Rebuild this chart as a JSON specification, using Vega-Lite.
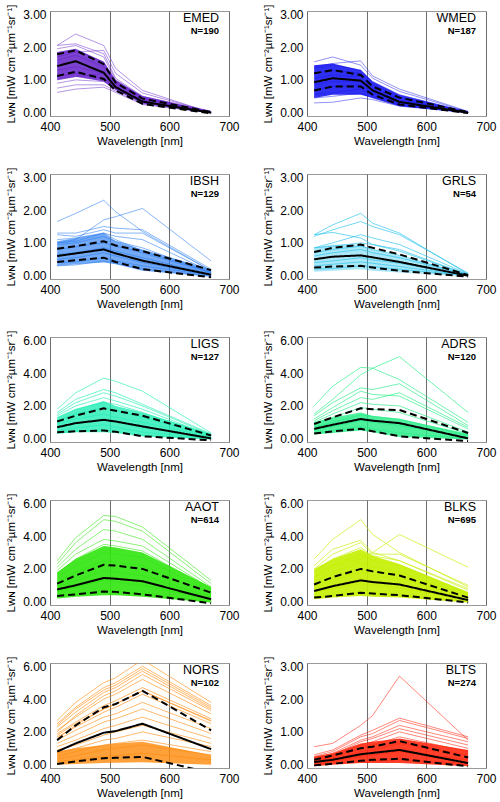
{
"$schema":"https://vega.github.io/schema/vega-lite/v6.json",
"padding":{"left":5,"top":3,"right":0,"bottom":0},
"columns":2,
"spacing":{"row":19,"column":22},
"config":{
 "view":{"stroke":"#999999","strokeWidth":1},
 "axis":{"domain":false,"ticks":false,"grid":false,"labelFont":"Liberation Sans","labelFontSize":12,"labelColor":"black","titleFont":"Liberation Sans","titleFontSize":11.5,"titleFontWeight":"normal","titleColor":"black"},
 "axisX":{"grid":true,"gridColor":"#6e6e6e","gridOpacity":1,"gridWidth":1,"labelPadding":5,"titlePadding":3,"zindex":1,"labelFlush":false},
 "axisY":{"format":".2f","labelPadding":4,"titlePadding":6},
 "title":{"anchor":"end","frame":"group","orient":"top","offset":-31,"dx":-10,"font":"Liberation Sans","fontSize":12.5,"fontWeight":"normal","color":"black","subtitleFont":"Liberation Sans","subtitleFontSize":9.5,"subtitleFontWeight":"bold","subtitleColor":"black","subtitlePadding":1}
},
"datasets":{
"EMEDl":[{"s":1,"412":2.05,"443":2.4,"490":2.05,"510":1.35,"555":0.68,"670":0.0},{"s":2,"412":2.05,"443":2.1,"490":1.8,"510":1.05,"555":0.5,"670":0.02},{"s":3,"412":1.95,"443":2.05,"490":1.7,"510":1.0,"555":0.48,"670":0.02},{"s":4,"412":1.8,"443":1.9,"490":1.55,"510":0.95,"555":0.45,"670":0.01},{"s":5,"412":1.7,"443":1.85,"490":1.9,"510":1.2,"555":0.6,"670":0.02},{"s":6,"412":1.6,"443":1.75,"490":1.4,"510":0.9,"555":0.42,"670":0.01},{"s":7,"412":1.3,"443":1.4,"490":1.2,"510":0.82,"555":0.38,"670":0.0},{"s":8,"412":1.1,"443":1.2,"490":1.05,"510":0.75,"555":0.33,"670":0.0},{"s":9,"412":1.0,"443":1.1,"490":1.2,"510":0.9,"555":0.5,"670":0.05},{"s":10,"412":0.9,"443":1.0,"490":0.95,"510":0.7,"555":0.3,"670":0.0},{"s":11,"412":0.75,"443":0.85,"490":0.85,"510":0.66,"555":0.27,"670":0.0},{"s":12,"412":0.62,"443":0.72,"490":0.78,"510":0.62,"555":0.25,"670":0.0}],
"EMEDs":[{"k":"m","412":1.42,"443":1.57,"490":1.22,"510":0.78,"555":0.34,"670":0.0},{"k":"u","412":1.78,"443":1.9,"490":1.48,"510":0.92,"555":0.43,"670":0.02},{"k":"d","412":1.12,"443":1.25,"490":1.03,"510":0.68,"555":0.27,"670":-0.02}],
"EMEDc":[{"w":412,"v":1.0,"v2":1.85},{"w":443,"v":1.1,"v2":1.95},{"w":490,"v":0.95,"v2":1.55},{"w":510,"v":0.7,"v2":1.0},{"w":555,"v":0.28,"v2":0.5},{"w":670,"v":0.0,"v2":0.03}],
"WMEDl":[{"s":1,"412":1.55,"443":1.7,"490":1.45,"510":1.05,"555":0.65,"670":0.03},{"s":2,"412":1.4,"443":1.5,"490":1.58,"510":1.12,"555":0.72,"670":0.04},{"s":3,"412":1.35,"443":1.45,"490":1.3,"510":0.95,"555":0.55,"670":0.02},{"s":4,"412":1.2,"443":1.3,"490":1.2,"510":0.85,"555":0.48,"670":0.02},{"s":5,"412":1.05,"443":1.15,"490":1.1,"510":0.75,"555":0.4,"670":0.01},{"s":6,"412":0.85,"443":0.95,"490":0.95,"510":0.68,"555":0.33,"670":0.01},{"s":7,"412":0.7,"443":0.8,"490":0.85,"510":0.6,"555":0.3,"670":0.0},{"s":8,"412":0.55,"443":0.62,"490":0.72,"510":0.52,"555":0.25,"670":0.0},{"s":9,"412":0.45,"443":0.5,"490":0.6,"510":0.45,"555":0.22,"670":0.0},{"s":10,"412":0.3,"443":0.32,"490":0.45,"510":0.4,"555":0.2,"670":0.0}],
"WMEDs":[{"k":"m","412":0.93,"443":1.05,"490":0.98,"510":0.68,"555":0.33,"670":0.0},{"k":"u","412":1.2,"443":1.3,"490":1.15,"510":0.8,"555":0.46,"670":0.02},{"k":"d","412":0.68,"443":0.8,"490":0.8,"510":0.55,"555":0.25,"670":-0.01}],
"WMEDc":[{"w":412,"v":0.45,"v2":1.45},{"w":443,"v":0.55,"v2":1.5},{"w":490,"v":0.55,"v2":1.3},{"w":510,"v":0.45,"v2":0.95},{"w":555,"v":0.2,"v2":0.55},{"w":670,"v":0.0,"v2":0.03}],
"IBSHl":[{"s":1,"412":1.65,"443":1.9,"490":2.3,"510":1.95,"555":1.35,"670":0.15},{"s":2,"412":1.0,"443":1.1,"490":1.7,"510":1.8,"555":2.05,"670":0.45},{"s":3,"412":1.3,"443":1.3,"490":1.5,"510":1.45,"555":1.4,"670":0.2},{"s":4,"412":1.25,"443":1.2,"490":1.4,"510":1.3,"555":1.3,"670":0.15},{"s":5,"412":1.1,"443":1.15,"490":1.3,"510":1.2,"555":1.1,"670":0.12},{"s":6,"412":0.95,"443":1.0,"490":1.2,"510":1.05,"555":0.85,"670":0.1},{"s":7,"412":0.8,"443":0.88,"490":1.0,"510":0.9,"555":0.7,"670":0.08},{"s":8,"412":0.65,"443":0.7,"490":0.85,"510":0.75,"555":0.55,"670":0.05},{"s":9,"412":0.5,"443":0.55,"490":0.7,"510":0.6,"555":0.4,"670":0.03},{"s":10,"412":0.4,"443":0.42,"490":0.55,"510":0.45,"555":0.3,"670":0.02},{"s":11,"412":0.3,"443":0.33,"490":0.45,"510":0.38,"555":0.2,"670":0.0},{"s":12,"412":1.0,"443":1.05,"490":1.3,"510":1.1,"555":0.75,"670":0.1}],
"IBSHs":[{"k":"m","412":0.6,"443":0.68,"490":0.8,"510":0.68,"555":0.46,"670":0.03},{"k":"u","412":0.82,"443":0.9,"490":1.05,"510":0.92,"555":0.75,"670":0.17},{"k":"d","412":0.42,"443":0.47,"490":0.55,"510":0.42,"555":0.2,"670":-0.05}],
"IBSHc":[{"w":412,"v":0.3,"v2":1.05},{"w":443,"v":0.35,"v2":1.15},{"w":490,"v":0.4,"v2":1.3},{"w":510,"v":0.35,"v2":1.05},{"w":555,"v":0.15,"v2":0.8},{"w":670,"v":-0.03,"v2":0.2}],
"GRLSl":[{"s":1,"412":1.25,"443":1.55,"490":1.9,"510":1.6,"555":1.3,"670":0.05},{"s":2,"412":1.2,"443":1.4,"490":1.65,"510":1.5,"555":1.25,"670":0.08},{"s":3,"412":1.25,"443":1.32,"490":1.15,"510":0.95,"555":0.75,"670":0.03},{"s":4,"412":0.85,"443":1.0,"490":1.25,"510":1.15,"555":0.95,"670":0.05},{"s":5,"412":0.85,"443":0.9,"490":1.0,"510":0.95,"555":0.8,"670":0.03},{"s":6,"412":0.6,"443":0.7,"490":0.8,"510":0.7,"555":0.55,"670":0.02},{"s":7,"412":0.4,"443":0.45,"490":0.55,"510":0.48,"555":0.38,"670":0.0},{"s":8,"412":0.2,"443":0.22,"490":0.3,"510":0.28,"555":0.2,"670":0.0},{"s":9,"412":0.7,"443":0.8,"490":0.9,"510":0.8,"555":0.62,"670":0.02},{"s":10,"412":0.3,"443":0.35,"490":0.42,"510":0.38,"555":0.28,"670":0.0}],
"GRLSs":[{"k":"m","412":0.5,"443":0.58,"490":0.62,"510":0.56,"555":0.42,"670":0.0},{"k":"u","412":0.72,"443":0.85,"490":0.95,"510":0.85,"555":0.65,"670":0.02},{"k":"d","412":0.25,"443":0.28,"490":0.3,"510":0.25,"555":0.15,"670":-0.03}],
"GRLSc":[{"w":412,"v":0.12,"v2":0.85},{"w":443,"v":0.15,"v2":0.95},{"w":490,"v":0.2,"v2":0.95},{"w":510,"v":0.15,"v2":0.8},{"w":555,"v":0.1,"v2":0.6},{"w":670,"v":-0.02,"v2":0.05}],
"LIGSl":[{"s":1,"412":1.8,"443":2.8,"490":3.7,"510":3.5,"555":2.9,"670":0.35},{"s":2,"412":1.6,"443":2.4,"490":3.0,"510":2.8,"555":2.1,"670":0.3},{"s":3,"412":1.5,"443":2.2,"490":2.8,"510":2.6,"555":2.0,"670":0.25},{"s":4,"412":1.4,"443":2.0,"490":2.5,"510":2.3,"555":1.8,"670":0.2},{"s":5,"412":1.3,"443":1.8,"490":2.2,"510":2.1,"555":1.6,"670":0.2},{"s":6,"412":1.1,"443":1.5,"490":1.9,"510":1.7,"555":1.3,"670":0.15},{"s":7,"412":0.9,"443":1.2,"490":1.5,"510":1.3,"555":1.0,"670":0.1},{"s":8,"412":0.7,"443":0.9,"490":1.2,"510":1.05,"555":0.7,"670":0.05},{"s":9,"412":0.5,"443":0.65,"490":0.85,"510":0.7,"555":0.4,"670":0.02},{"s":10,"412":0.35,"443":0.45,"490":0.55,"510":0.45,"555":0.2,"670":0.0}],
"LIGSs":[{"k":"m","412":0.7,"443":0.95,"490":1.15,"510":1.05,"555":0.75,"670":0.02},{"k":"u","412":1.05,"443":1.4,"490":1.85,"510":1.7,"555":1.4,"670":0.2},{"k":"d","412":0.4,"443":0.45,"490":0.5,"510":0.42,"555":0.15,"670":-0.1}],
"LIGSc":[{"w":412,"v":0.3,"v2":1.3},{"w":443,"v":0.4,"v2":1.8},{"w":490,"v":0.4,"v2":2.3},{"w":510,"v":0.35,"v2":2.0},{"w":555,"v":0.15,"v2":1.6},{"w":670,"v":-0.05,"v2":0.3}],
"ADRSl":[{"s":1,"412":1.5,"443":2.4,"490":3.9,"510":4.3,"555":5.0,"670":1.6},{"s":2,"412":2.0,"443":3.2,"490":4.35,"510":4.3,"555":3.6,"670":1.0},{"s":3,"412":1.4,"443":2.2,"490":3.1,"510":3.0,"555":3.35,"670":0.8},{"s":4,"412":1.2,"443":1.9,"490":2.9,"510":2.7,"555":2.6,"670":0.6},{"s":5,"412":1.1,"443":1.7,"490":2.5,"510":2.4,"555":2.8,"670":0.7},{"s":6,"412":1.0,"443":1.5,"490":2.2,"510":2.1,"555":2.0,"670":0.4},{"s":7,"412":0.9,"443":1.3,"490":1.9,"510":1.8,"555":1.6,"670":0.3},{"s":8,"412":0.7,"443":1.0,"490":1.45,"510":1.35,"555":1.2,"670":0.2},{"s":9,"412":0.5,"443":0.75,"490":1.1,"510":1.0,"555":0.8,"670":0.1},{"s":10,"412":0.35,"443":0.5,"490":0.75,"510":0.6,"555":0.35,"670":0.0}],
"ADRSs":[{"k":"m","412":0.6,"443":0.85,"490":1.2,"510":1.1,"555":0.95,"670":0.02},{"k":"u","412":0.9,"443":1.3,"490":1.85,"510":1.8,"555":1.75,"670":0.35},{"k":"d","412":0.32,"443":0.45,"490":0.6,"510":0.45,"555":0.15,"670":-0.15}],
"ADRSc":[{"w":412,"v":0.25,"v2":1.0},{"w":443,"v":0.35,"v2":1.3},{"w":490,"v":0.5,"v2":1.6},{"w":510,"v":0.4,"v2":1.4},{"w":555,"v":0.1,"v2":1.2},{"w":670,"v":-0.05,"v2":0.3}],
"AAOTl":[{"s":1,"412":2.5,"443":3.9,"490":5.25,"510":5.2,"555":4.55,"670":1.3},{"s":2,"412":2.3,"443":3.6,"490":5.0,"510":4.9,"555":4.3,"670":1.1},{"s":3,"412":2.1,"443":3.2,"490":4.4,"510":4.3,"555":3.8,"670":0.9},{"s":4,"412":1.9,"443":2.9,"490":3.8,"510":3.7,"555":3.4,"670":0.8},{"s":5,"412":1.7,"443":2.6,"490":3.5,"510":3.4,"555":3.1,"670":0.75},{"s":6,"412":1.5,"443":2.2,"490":3.0,"510":2.9,"555":2.7,"670":0.6},{"s":7,"412":1.2,"443":1.8,"490":2.5,"510":2.4,"555":2.2,"670":0.5},{"s":8,"412":0.9,"443":1.3,"490":1.9,"510":1.8,"555":1.6,"670":0.3},{"s":9,"412":0.6,"443":0.9,"490":1.3,"510":1.2,"555":1.0,"670":0.15},{"s":10,"412":0.3,"443":0.45,"490":0.7,"510":0.65,"555":0.5,"670":0.0}],
"AAOTs":[{"k":"m","412":0.75,"443":1.0,"490":1.45,"510":1.4,"555":1.25,"670":0.15},{"k":"u","412":1.1,"443":1.6,"490":2.25,"510":2.2,"555":2.0,"670":0.55},{"k":"d","412":0.35,"443":0.45,"490":0.62,"510":0.6,"555":0.45,"670":-0.1}],
"AAOTc":[{"w":412,"v":0.2,"v2":1.8},{"w":443,"v":0.3,"v2":2.6},{"w":490,"v":0.4,"v2":3.4},{"w":510,"v":0.4,"v2":3.3},{"w":555,"v":0.3,"v2":3.0},{"w":670,"v":-0.05,"v2":0.9}],
"BLKSl":[{"s":1,"412":2.6,"443":3.8,"490":5.0,"510":4.1,"555":3.0,"670":0.9},{"s":2,"412":1.5,"443":2.2,"490":2.6,"510":3.0,"555":4.1,"670":2.1},{"s":3,"412":2.2,"443":3.2,"490":3.75,"510":3.0,"555":2.5,"670":0.8},{"s":4,"412":2.0,"443":2.9,"490":3.6,"510":2.9,"555":2.9,"670":1.0},{"s":5,"412":1.8,"443":2.6,"490":3.3,"510":2.8,"555":2.5,"670":0.7},{"s":6,"412":1.5,"443":2.2,"490":2.9,"510":2.5,"555":2.2,"670":0.5},{"s":7,"412":1.2,"443":1.8,"490":2.4,"510":2.1,"555":1.8,"670":0.4},{"s":8,"412":0.9,"443":1.3,"490":1.8,"510":1.6,"555":1.4,"670":0.25},{"s":9,"412":0.6,"443":0.8,"490":1.1,"510":1.0,"555":0.85,"670":0.1},{"s":10,"412":0.3,"443":0.4,"490":0.6,"510":0.55,"555":0.45,"670":0.0}],
"BLKSs":[{"k":"m","412":0.65,"443":0.95,"490":1.3,"510":1.2,"555":1.05,"670":0.1},{"k":"u","412":1.05,"443":1.5,"490":2.0,"510":1.85,"555":1.6,"670":0.25},{"k":"d","412":0.25,"443":0.35,"490":0.55,"510":0.5,"555":0.4,"670":-0.05}],
"BLKSc":[{"w":412,"v":0.15,"v2":2.0},{"w":443,"v":0.25,"v2":2.6},{"w":490,"v":0.35,"v2":3.2},{"w":510,"v":0.3,"v2":2.8},{"w":555,"v":0.25,"v2":2.3},{"w":670,"v":-0.05,"v2":0.6}],
"NORSl":[{"s":1,"412":2.7,"443":3.8,"490":5.0,"510":5.3,"555":6.4,"670":3.8},{"s":2,"412":2.5,"443":3.5,"490":4.7,"510":5.0,"555":6.0,"670":3.6},{"s":3,"412":2.3,"443":3.2,"490":4.4,"510":4.7,"555":5.7,"670":3.4},{"s":4,"412":2.1,"443":2.9,"490":4.0,"510":4.3,"555":5.2,"670":3.1},{"s":5,"412":1.9,"443":2.6,"490":3.6,"510":3.9,"555":4.7,"670":2.8},{"s":6,"412":1.7,"443":2.3,"490":3.2,"510":3.5,"555":4.3,"670":2.5},{"s":7,"412":1.5,"443":2.1,"490":2.9,"510":3.1,"555":3.8,"670":2.2},{"s":8,"412":1.3,"443":1.8,"490":2.6,"510":2.8,"555":3.4,"670":1.9},{"s":9,"412":1.1,"443":1.5,"490":2.2,"510":2.4,"555":2.9,"670":1.6},{"s":10,"412":0.9,"443":1.2,"490":1.8,"510":2.0,"555":2.4,"670":1.3},{"s":11,"412":0.7,"443":1.0,"490":1.5,"510":1.6,"555":2.0,"670":1.1},{"s":12,"412":0.5,"443":0.8,"490":1.2,"510":1.3,"555":1.5,"670":0.8},{"s":13,"412":0.35,"443":0.55,"490":0.9,"510":1.0,"555":1.2,"670":0.6},{"s":14,"412":0.2,"443":0.3,"490":0.5,"510":0.55,"555":0.7,"670":0.3},{"s":15,"412":2.0,"443":3.0,"490":4.2,"510":4.5,"555":5.5,"670":3.3},{"s":16,"412":1.6,"443":2.4,"490":3.4,"510":3.7,"555":4.5,"670":2.7},{"s":17,"412":2.4,"443":3.4,"490":4.55,"510":4.85,"555":5.85,"670":3.5},{"s":18,"412":1.8,"443":2.5,"490":3.4,"510":3.7,"555":4.5,"670":2.65}],
"NORSs":[{"k":"m","412":0.8,"443":1.3,"490":1.95,"510":2.05,"555":2.5,"670":0.95},{"k":"u","412":1.5,"443":2.4,"490":3.5,"510":3.7,"555":4.5,"670":2.1},{"k":"d","412":0.05,"443":0.2,"490":0.4,"510":0.42,"555":0.48,"670":-0.5}],
"NORSc":[{"w":412,"v":0.0,"v2":0.8},{"w":443,"v":0.05,"v2":1.0},{"w":490,"v":0.1,"v2":1.2},{"w":510,"v":0.12,"v2":1.3},{"w":555,"v":0.15,"v2":1.4},{"w":670,"v":0.0,"v2":0.6}],
"BLTSl":[{"s":1,"412":0.55,"443":0.65,"490":1.2,"510":1.5,"555":2.7,"670":0.75},{"s":2,"412":0.3,"443":0.45,"490":0.9,"510":1.05,"555":1.42,"670":0.85},{"s":3,"412":0.25,"443":0.4,"490":0.85,"510":0.95,"555":1.35,"670":0.8},{"s":4,"412":0.2,"443":0.35,"490":0.75,"510":0.85,"555":1.2,"670":0.7},{"s":5,"412":0.2,"443":0.3,"490":0.7,"510":0.8,"555":1.1,"670":0.6},{"s":6,"412":0.15,"443":0.25,"490":0.6,"510":0.7,"555":1.0,"670":0.5},{"s":7,"412":0.12,"443":0.2,"490":0.5,"510":0.6,"555":0.85,"670":0.4},{"s":8,"412":0.1,"443":0.15,"490":0.4,"510":0.45,"555":0.65,"670":0.3},{"s":9,"412":0.05,"443":0.1,"490":0.25,"510":0.3,"555":0.4,"670":0.15},{"s":10,"412":0.0,"443":0.05,"490":0.1,"510":0.12,"555":0.15,"670":0.02}],
"BLTSs":[{"k":"m","412":0.08,"443":0.15,"490":0.32,"510":0.36,"555":0.45,"670":0.05},{"k":"u","412":0.15,"443":0.28,"490":0.5,"510":0.55,"555":0.72,"670":0.22},{"k":"d","412":-0.02,"443":0.03,"490":0.12,"510":0.15,"555":0.18,"670":-0.05}],
"BLTSc":[{"w":412,"v":-0.05,"v2":0.25},{"w":443,"v":0.0,"v2":0.35},{"w":490,"v":0.05,"v2":0.65},{"w":510,"v":0.05,"v2":0.7},{"w":555,"v":0.05,"v2":0.8},{"w":670,"v":-0.05,"v2":0.45}]
},
"concat":[
{"width":179,"height":105,"title":{"text":"EMED","subtitle":"N=190"},"encoding":{"x":{"field":"w","type":"quantitative","scale":{"domain":[400,700]},"axis":{"values":[400,500,600,700]},"title":"Wavelength [nm]"},"y":{"field":"v","type":"quantitative","scale":{"domain":[-0.1,3.1],"nice":false,"zero":false},"axis":{"values":[0,1,2,3]},"title":"Lᴡɴ [mW cm⁻²µm⁻¹sr⁻¹]"}},
"layer":[
{"data":{"name":"EMEDc"},"mark":{"type":"area","color":"#6420c8","opacity":0.85,"clip":true},"encoding":{"y2":{"field":"v2"}}},
{"data":{"name":"EMEDl"},"transform":[{"fold":["412","443","490","510","555","670"],"as":["w","v"]}],"mark":{"type":"line","color":"#6420c8","strokeWidth":0.8,"opacity":0.6,"clip":true},"encoding":{"detail":{"field":"s"}}},
{"data":{"name":"EMEDs"},"transform":[{"fold":["412","443","490","510","555","670"],"as":["w","v"]}],"mark":{"type":"line","color":"black","strokeWidth":2,"clip":true},"encoding":{"strokeDash":{"field":"k","type":"nominal","scale":{"domain":["m","u","d"],"range":[[1,0],[7,4],[7,4]]},"legend":null}}}
]},
{"width":179,"height":105,"title":{"text":"WMED","subtitle":"N=187"},"encoding":{"x":{"field":"w","type":"quantitative","scale":{"domain":[400,700]},"axis":{"values":[400,500,600,700]},"title":"Wavelength [nm]"},"y":{"field":"v","type":"quantitative","scale":{"domain":[-0.1,3.1],"nice":false,"zero":false},"axis":{"values":[0,1,2,3]},"title":"Lᴡɴ [mW cm⁻²µm⁻¹sr⁻¹]"}},
"layer":[
{"data":{"name":"WMEDc"},"mark":{"type":"area","color":"#1a1af0","opacity":0.9,"clip":true},"encoding":{"y2":{"field":"v2"}}},
{"data":{"name":"WMEDl"},"transform":[{"fold":["412","443","490","510","555","670"],"as":["w","v"]}],"mark":{"type":"line","color":"#1a1af0","strokeWidth":0.8,"opacity":0.6,"clip":true},"encoding":{"detail":{"field":"s"}}},
{"data":{"name":"WMEDs"},"transform":[{"fold":["412","443","490","510","555","670"],"as":["w","v"]}],"mark":{"type":"line","color":"black","strokeWidth":2,"clip":true},"encoding":{"strokeDash":{"field":"k","type":"nominal","scale":{"domain":["m","u","d"],"range":[[1,0],[7,4],[7,4]]},"legend":null}}}
]},
{"width":179,"height":105,"title":{"text":"IBSH","subtitle":"N=129"},"encoding":{"x":{"field":"w","type":"quantitative","scale":{"domain":[400,700]},"axis":{"values":[400,500,600,700]},"title":"Wavelength [nm]"},"y":{"field":"v","type":"quantitative","scale":{"domain":[-0.1,3.1],"nice":false,"zero":false},"axis":{"values":[0,1,2,3]},"title":"Lᴡɴ [mW cm⁻²µm⁻¹sr⁻¹]"}},
"layer":[
{"data":{"name":"IBSHc"},"mark":{"type":"area","color":"#2a7cf0","opacity":0.65,"clip":true},"encoding":{"y2":{"field":"v2"}}},
{"data":{"name":"IBSHl"},"transform":[{"fold":["412","443","490","510","555","670"],"as":["w","v"]}],"mark":{"type":"line","color":"#2a7cf0","strokeWidth":0.8,"opacity":0.7,"clip":true},"encoding":{"detail":{"field":"s"}}},
{"data":{"name":"IBSHs"},"transform":[{"fold":["412","443","490","510","555","670"],"as":["w","v"]}],"mark":{"type":"line","color":"black","strokeWidth":2,"clip":true},"encoding":{"strokeDash":{"field":"k","type":"nominal","scale":{"domain":["m","u","d"],"range":[[1,0],[7,4],[7,4]]},"legend":null}}}
]},
{"width":179,"height":105,"title":{"text":"GRLS","subtitle":"N=54"},"encoding":{"x":{"field":"w","type":"quantitative","scale":{"domain":[400,700]},"axis":{"values":[400,500,600,700]},"title":"Wavelength [nm]"},"y":{"field":"v","type":"quantitative","scale":{"domain":[-0.1,3.1],"nice":false,"zero":false},"axis":{"values":[0,1,2,3]},"title":"Lᴡɴ [mW cm⁻²µm⁻¹sr⁻¹]"}},
"layer":[
{"data":{"name":"GRLSc"},"mark":{"type":"area","color":"#2cc4ec","opacity":0.4,"clip":true},"encoding":{"y2":{"field":"v2"}}},
{"data":{"name":"GRLSl"},"transform":[{"fold":["412","443","490","510","555","670"],"as":["w","v"]}],"mark":{"type":"line","color":"#2cc4ec","strokeWidth":0.8,"opacity":0.85,"clip":true},"encoding":{"detail":{"field":"s"}}},
{"data":{"name":"GRLSs"},"transform":[{"fold":["412","443","490","510","555","670"],"as":["w","v"]}],"mark":{"type":"line","color":"black","strokeWidth":2,"clip":true},"encoding":{"strokeDash":{"field":"k","type":"nominal","scale":{"domain":["m","u","d"],"range":[[1,0],[7,4],[7,4]]},"legend":null}}}
]},
{"width":179,"height":105,"title":{"text":"LIGS","subtitle":"N=127"},"encoding":{"x":{"field":"w","type":"quantitative","scale":{"domain":[400,700]},"axis":{"values":[400,500,600,700]},"title":"Wavelength [nm]"},"y":{"field":"v","type":"quantitative","scale":{"domain":[-0.2,6.2],"nice":false,"zero":false},"axis":{"values":[0,2,4,6]},"title":"Lᴡɴ [mW cm⁻²µm⁻¹sr⁻¹]"}},
"layer":[
{"data":{"name":"LIGSc"},"mark":{"type":"area","color":"#22eeb4","opacity":0.8,"clip":true},"encoding":{"y2":{"field":"v2"}}},
{"data":{"name":"LIGSl"},"transform":[{"fold":["412","443","490","510","555","670"],"as":["w","v"]}],"mark":{"type":"line","color":"#22eeb4","strokeWidth":0.8,"opacity":0.8,"clip":true},"encoding":{"detail":{"field":"s"}}},
{"data":{"name":"LIGSs"},"transform":[{"fold":["412","443","490","510","555","670"],"as":["w","v"]}],"mark":{"type":"line","color":"black","strokeWidth":2,"clip":true},"encoding":{"strokeDash":{"field":"k","type":"nominal","scale":{"domain":["m","u","d"],"range":[[1,0],[7,4],[7,4]]},"legend":null}}}
]},
{"width":179,"height":105,"title":{"text":"ADRS","subtitle":"N=120"},"encoding":{"x":{"field":"w","type":"quantitative","scale":{"domain":[400,700]},"axis":{"values":[400,500,600,700]},"title":"Wavelength [nm]"},"y":{"field":"v","type":"quantitative","scale":{"domain":[-0.2,6.2],"nice":false,"zero":false},"axis":{"values":[0,2,4,6]},"title":"Lᴡɴ [mW cm⁻²µm⁻¹sr⁻¹]"}},
"layer":[
{"data":{"name":"ADRSc"},"mark":{"type":"area","color":"#22ec84","opacity":0.8,"clip":true},"encoding":{"y2":{"field":"v2"}}},
{"data":{"name":"ADRSl"},"transform":[{"fold":["412","443","490","510","555","670"],"as":["w","v"]}],"mark":{"type":"line","color":"#22ec84","strokeWidth":0.8,"opacity":0.8,"clip":true},"encoding":{"detail":{"field":"s"}}},
{"data":{"name":"ADRSs"},"transform":[{"fold":["412","443","490","510","555","670"],"as":["w","v"]}],"mark":{"type":"line","color":"black","strokeWidth":2,"clip":true},"encoding":{"strokeDash":{"field":"k","type":"nominal","scale":{"domain":["m","u","d"],"range":[[1,0],[7,4],[7,4]]},"legend":null}}}
]},
{"width":179,"height":105,"title":{"text":"AAOT","subtitle":"N=614"},"encoding":{"x":{"field":"w","type":"quantitative","scale":{"domain":[400,700]},"axis":{"values":[400,500,600,700]},"title":"Wavelength [nm]"},"y":{"field":"v","type":"quantitative","scale":{"domain":[-0.2,6.2],"nice":false,"zero":false},"axis":{"values":[0,2,4,6]},"title":"Lᴡɴ [mW cm⁻²µm⁻¹sr⁻¹]"}},
"layer":[
{"data":{"name":"AAOTc"},"mark":{"type":"area","color":"#30e610","opacity":0.9,"clip":true},"encoding":{"y2":{"field":"v2"}}},
{"data":{"name":"AAOTl"},"transform":[{"fold":["412","443","490","510","555","670"],"as":["w","v"]}],"mark":{"type":"line","color":"#30e610","strokeWidth":0.8,"opacity":0.7,"clip":true},"encoding":{"detail":{"field":"s"}}},
{"data":{"name":"AAOTs"},"transform":[{"fold":["412","443","490","510","555","670"],"as":["w","v"]}],"mark":{"type":"line","color":"black","strokeWidth":2,"clip":true},"encoding":{"strokeDash":{"field":"k","type":"nominal","scale":{"domain":["m","u","d"],"range":[[1,0],[7,4],[7,4]]},"legend":null}}}
]},
{"width":179,"height":105,"title":{"text":"BLKS","subtitle":"N=695"},"encoding":{"x":{"field":"w","type":"quantitative","scale":{"domain":[400,700]},"axis":{"values":[400,500,600,700]},"title":"Wavelength [nm]"},"y":{"field":"v","type":"quantitative","scale":{"domain":[-0.2,6.2],"nice":false,"zero":false},"axis":{"values":[0,2,4,6]},"title":"Lᴡɴ [mW cm⁻²µm⁻¹sr⁻¹]"}},
"layer":[
{"data":{"name":"BLKSc"},"mark":{"type":"area","color":"#c4f000","opacity":0.9,"clip":true},"encoding":{"y2":{"field":"v2"}}},
{"data":{"name":"BLKSl"},"transform":[{"fold":["412","443","490","510","555","670"],"as":["w","v"]}],"mark":{"type":"line","color":"#c4f000","strokeWidth":0.8,"opacity":0.8,"clip":true},"encoding":{"detail":{"field":"s"}}},
{"data":{"name":"BLKSs"},"transform":[{"fold":["412","443","490","510","555","670"],"as":["w","v"]}],"mark":{"type":"line","color":"black","strokeWidth":2,"clip":true},"encoding":{"strokeDash":{"field":"k","type":"nominal","scale":{"domain":["m","u","d"],"range":[[1,0],[7,4],[7,4]]},"legend":null}}}
]},
{"width":179,"height":105,"title":{"text":"NORS","subtitle":"N=102"},"encoding":{"x":{"field":"w","type":"quantitative","scale":{"domain":[400,700]},"axis":{"values":[400,500,600,700]},"title":"Wavelength [nm]"},"y":{"field":"v","type":"quantitative","scale":{"domain":[-0.2,6.2],"nice":false,"zero":false},"axis":{"values":[0,2,4,6]},"title":"Lᴡɴ [mW cm⁻²µm⁻¹sr⁻¹]"}},
"layer":[
{"data":{"name":"NORSc"},"mark":{"type":"area","color":"#ff8a0a","opacity":0.8,"clip":true},"encoding":{"y2":{"field":"v2"}}},
{"data":{"name":"NORSl"},"transform":[{"fold":["412","443","490","510","555","670"],"as":["w","v"]}],"mark":{"type":"line","color":"#ff8a0a","strokeWidth":0.8,"opacity":0.75,"clip":true},"encoding":{"detail":{"field":"s"}}},
{"data":{"name":"NORSs"},"transform":[{"fold":["412","443","490","510","555","670"],"as":["w","v"]}],"mark":{"type":"line","color":"black","strokeWidth":2,"clip":true},"encoding":{"strokeDash":{"field":"k","type":"nominal","scale":{"domain":["m","u","d"],"range":[[1,0],[7,4],[7,4]]},"legend":null}}}
]},
{"width":179,"height":105,"title":{"text":"BLTS","subtitle":"N=274"},"encoding":{"x":{"field":"w","type":"quantitative","scale":{"domain":[400,700]},"axis":{"values":[400,500,600,700]},"title":"Wavelength [nm]"},"y":{"field":"v","type":"quantitative","scale":{"domain":[-0.1,3.1],"nice":false,"zero":false},"axis":{"values":[0,1,2,3]},"title":"Lᴡɴ [mW cm⁻²µm⁻¹sr⁻¹]"}},
"layer":[
{"data":{"name":"BLTSc"},"mark":{"type":"area","color":"#ff2a12","opacity":0.9,"clip":true},"encoding":{"y2":{"field":"v2"}}},
{"data":{"name":"BLTSl"},"transform":[{"fold":["412","443","490","510","555","670"],"as":["w","v"]}],"mark":{"type":"line","color":"#ff2a12","strokeWidth":0.8,"opacity":0.7,"clip":true},"encoding":{"detail":{"field":"s"}}},
{"data":{"name":"BLTSs"},"transform":[{"fold":["412","443","490","510","555","670"],"as":["w","v"]}],"mark":{"type":"line","color":"black","strokeWidth":2,"clip":true},"encoding":{"strokeDash":{"field":"k","type":"nominal","scale":{"domain":["m","u","d"],"range":[[1,0],[7,4],[7,4]]},"legend":null}}}
]}
]
}
